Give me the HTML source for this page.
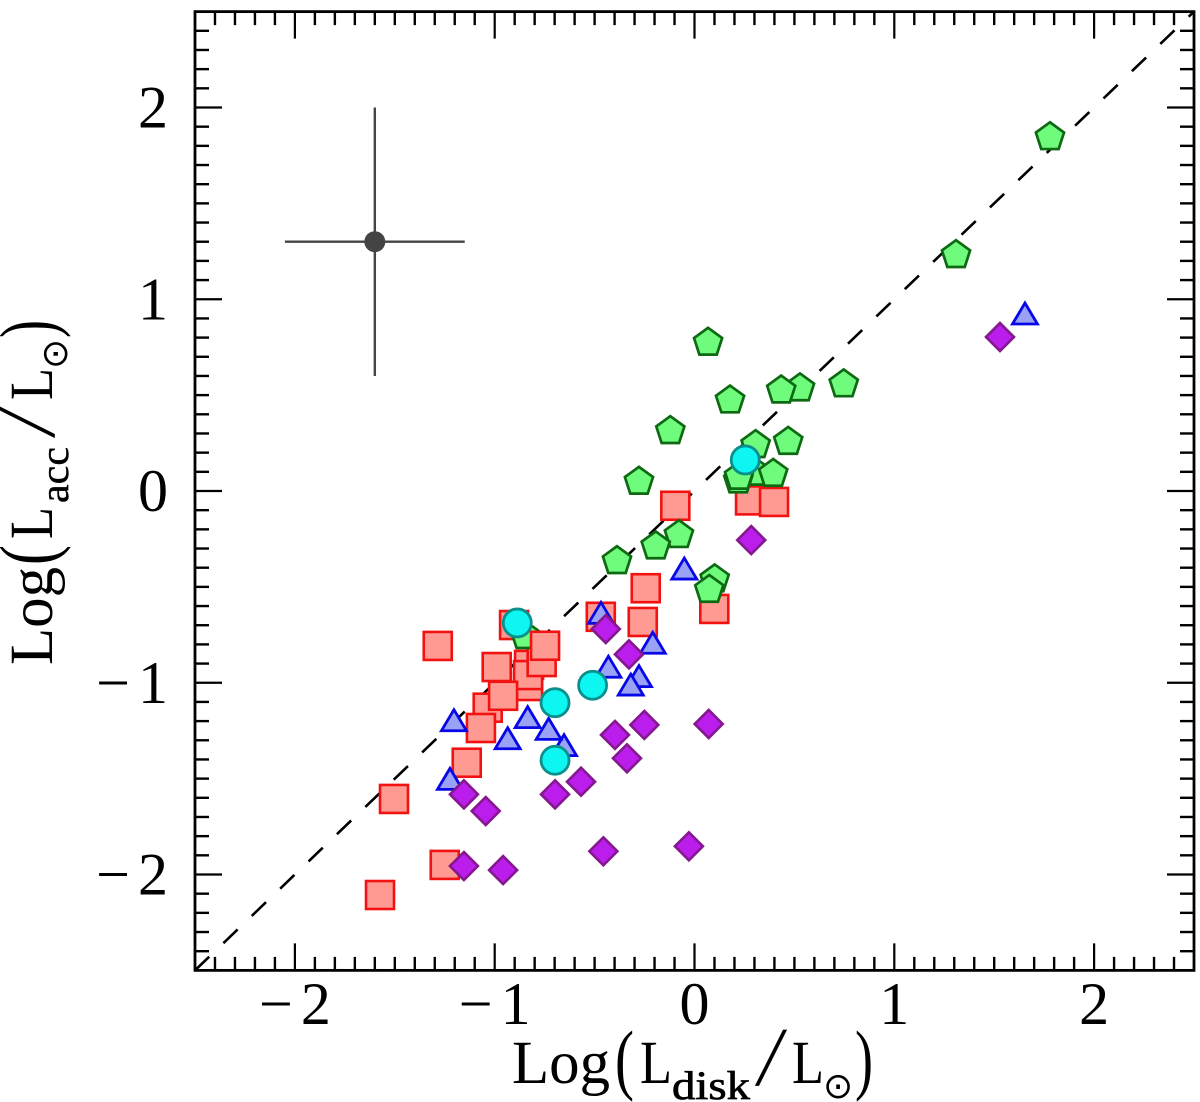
<!DOCTYPE html>
<html lang="en">
<head>
<meta charset="utf-8">
<title>Log Lacc versus Log Ldisk</title>
<style>
html,body{margin:0;padding:0;background:#fff;}
svg{display:block;}
text{font-family:"Liberation Serif","DejaVu Serif",serif;fill:#000;}
</style>
</head>
<body>
<svg id="chart" xmlns="http://www.w3.org/2000/svg" width="1200" height="1102" viewBox="0 0 1200 1102">
  <rect x="0" y="0" width="1200" height="1102" fill="#ffffff"/>
  <g id="ticks"></g>
  <line id="one-to-one" stroke="#000" stroke-width="2.6" stroke-dasharray="19.7 19.65"/>
  <g id="marks"></g>
  <g id="errorbar"></g>
  <rect id="frame" fill="none" stroke="#000" stroke-width="2.8"/>
  <g id="ticklabels"></g>

  <g transform="translate(512,1083)">
    <text x="0" y="0" font-size="61" textLength="98" lengthAdjust="spacingAndGlyphs">Log</text>
    <text x="103" y="2" font-size="78" font-weight="normal" textLength="19" lengthAdjust="spacingAndGlyphs">(</text>
    <text x="128" y="0" font-size="61" textLength="32" lengthAdjust="spacingAndGlyphs">L</text>
    <text x="160" y="16" font-size="40" stroke="#000" stroke-width="0.7" textLength="78" lengthAdjust="spacingAndGlyphs">disk</text>
    <text transform="translate(243,2) skewX(-9)" x="0" y="0" font-size="84">/</text>
    <text x="280" y="0" font-size="61" textLength="32" lengthAdjust="spacingAndGlyphs">L</text>
    <text x="311" y="15" font-size="36" style="font-family:'DejaVu Sans',sans-serif">⊙</text>
    <text x="343" y="2" font-size="78" textLength="18" lengthAdjust="spacingAndGlyphs">)</text>
  </g>

  <g transform="translate(52,665) rotate(-90)">
    <text x="0" y="0" font-size="61" textLength="98" lengthAdjust="spacingAndGlyphs">Log</text>
    <text x="100" y="2" font-size="78" textLength="20" lengthAdjust="spacingAndGlyphs">(</text>
    <text x="126" y="0" font-size="61" textLength="32" lengthAdjust="spacingAndGlyphs">L</text>
    <text x="162" y="16" font-size="40" stroke="#000" stroke-width="0.4" textLength="56" lengthAdjust="spacingAndGlyphs">acc</text>
    <text transform="translate(227,2) skewX(-9)" x="0" y="0" font-size="84">/</text>
    <text x="265" y="0" font-size="61" textLength="32" lengthAdjust="spacingAndGlyphs">L</text>
    <text x="296" y="15" font-size="36" style="font-family:'DejaVu Sans',sans-serif">⊙</text>
    <text x="327" y="2" font-size="78" textLength="18" lengthAdjust="spacingAndGlyphs">)</text>
  </g>
</svg>
<script>
const xTickLabels = [-2, -1, 0, 1, 2];
const yTickLabels = [-2, -1, 0, 1, 2];
const axisMin = -2.5;
const axisMax = 2.5;
const minorStep = 0.1;

const squaresBack = [[-1.285,-0.808],[-0.903,-0.699],[-0.990,-0.918],[-0.833,-1.017],[-0.828,-0.907],[-0.833,-0.960],[-0.765,-0.892],[-1.035,-1.130],[-0.958,-1.068],[-1.069,-1.236],[-1.140,-1.417],[-1.504,-1.606],[-1.250,-1.950],[-1.574,-2.107],[-0.469,-0.656],[-0.259,-0.683],[-0.244,-0.507],[0.099,-0.615],[-0.096,-0.077],[0.278,-0.049],[0.398,-0.057]];
const pentagons = [[0.068,0.779],[0.178,0.478],[0.528,0.541],[0.434,0.530],[0.747,0.562],[-0.121,0.318],[0.469,0.262],[0.306,0.245],[-0.278,0.054],[0.303,0.101],[0.394,0.095],[0.219,0.061],[0.223,0.080],[-0.078,-0.224],[-0.194,-0.283],[-0.388,-0.360],[0.101,-0.455],[0.074,-0.510],[-0.847,-0.751],[1.779,1.851],[1.309,1.236]];
const squaresFront = [[-0.748,-0.807]];
const triangles = [[-1.204,-1.198],[-0.835,-1.182],[-0.935,-1.292],[-0.653,-1.328],[-0.730,-1.243],[-1.224,-1.504],[-0.468,-0.638],[-0.209,-0.794],[-0.431,-0.919],[-0.278,-0.968],[-0.319,-1.012],[-0.051,-0.407],[1.654,0.923]];
const diamonds = [[-0.444,-0.720],[-0.328,-0.852],[-0.251,-1.220],[-0.398,-1.272],[-0.338,-1.394],[-0.568,-1.516],[-0.698,-1.582],[-1.154,-1.582],[-1.045,-1.669],[-1.154,-1.956],[-0.958,-1.977],[-0.456,-1.879],[-0.028,-1.853],[0.071,-1.215],[0.284,-0.256],[1.529,0.803]];
const circles = [[-0.887,-0.688],[-0.698,-1.104],[-0.510,-1.013],[-0.698,-1.404],[0.254,0.162]];
const errorCenter = [-1.6, 1.3];
const errorX = 0.45;
const errorY = 0.7;

const NS = 'http://www.w3.org/2000/svg';
function X(v){ return 694.5 + 199.8 * v; }
function Y(v){ return 491 - 191.75 * v; }
function make(tag, parent, attrs){
  const el = document.createElementNS(NS, tag);
  for (const k in attrs) el.setAttribute(k, attrs[k]);
  parent.appendChild(el);
  return el;
}

const frame = document.getElementById('frame');
frame.setAttribute('x', X(axisMin));
frame.setAttribute('y', Y(axisMax));
frame.setAttribute('width', X(axisMax) - X(axisMin));
frame.setAttribute('height', Y(axisMin) - Y(axisMax));

const oneToOne = document.getElementById('one-to-one');
oneToOne.setAttribute('x1', X(axisMin));
oneToOne.setAttribute('y1', Y(axisMin));
oneToOne.setAttribute('x2', X(axisMax));
oneToOne.setAttribute('y2', Y(axisMax));

const ticks = document.getElementById('ticks');
const nSteps = Math.round((axisMax - axisMin) / minorStep);
for (let i = 1; i < nSteps; i++) {
  const v = axisMin + i * minorStep;
  const isMajor = Math.abs(v - Math.round(v)) < 1e-6;
  const lenX = isMajor ? 27 : 13.5;
  const lenY = isMajor ? 27 : 14;
  const px = X(v);
  const py = Y(v);
  const b = Y(axisMin), t = Y(axisMax), l = X(axisMin), r = X(axisMax);
  const segs = [[px,b,px,b-lenX],[px,t,px,t+lenX],[l,py,l+lenY,py],[r,py,r-lenY,py]];
  for (const s of segs) {
    const ln = make('line', ticks, {x1:s[0], y1:s[1], x2:s[2], y2:s[3], stroke:'#000', 'stroke-width': isMajor ? 2.2 : 2.4});
    
    
  }
}

const labels = document.getElementById('ticklabels');
function writeLabel(el, v){
  if (v < 0) {
    const m = make('tspan', el, {});
    m.textContent = '\u2212';
    const d = make('tspan', el, {dx:8});
    d.textContent = String(Math.abs(v));
  } else {
    el.textContent = String(v);
  }
}
for (const v of xTickLabels) {
  const tx = make('text', labels, {x:X(v), y:1024, 'font-size':60, 'text-anchor':'middle'});
  writeLabel(tx, v);
  
  
}
for (const v of yTickLabels) {
  const ty = make('text', labels, {x:168, y:Y(v) + 20, 'font-size':60, 'text-anchor':'end'});
  writeLabel(ty, v);
  
  
}

const marks = document.getElementById('marks');
function drawSquare(p){
  const s = make('rect', marks, {x:X(p[0])-14, y:Y(p[1])-14, width:28, height:28, fill:'#ff9a92', stroke:'#f21212', 'stroke-width':2.6});
  
  
}
function polyPoints(cx, cy, pts){
  return pts.map(q => (cx + q[0]).toFixed(2) + ',' + (cy + q[1]).toFixed(2)).join(' ');
}
const pentShape = [0,1,2,3,4].map(i => [14.8 * Math.sin(i * 2 * Math.PI / 5), 1 - 14.8 * Math.cos(i * 2 * Math.PI / 5)]);
function drawPentagon(p){
  const s = make('polygon', marks, {points:polyPoints(X(p[0]), Y(p[1]), pentShape), fill:'#6ffb7c', stroke:'#0e6a12', 'stroke-width':2.7, 'stroke-linejoin':'miter'});
  
  
}
function drawTriangle(p){
  const s = make('polygon', marks, {points:polyPoints(X(p[0]), Y(p[1]), [[0,-11],[12.5,10],[-12.5,10]]), fill:'#9aa2f6', stroke:'#0808e6', 'stroke-width':2.8});
  
  
}
function drawDiamond(p){
  const s = make('polygon', marks, {points:polyPoints(X(p[0]), Y(p[1]), [[0,-14],[14,0],[0,14],[-14,0]]), fill:'#bb1eec', stroke:'#85178f', 'stroke-width':2.6});
  
  
}
function drawCircle(p){
  const s = make('circle', marks, {cx:X(p[0]), cy:Y(p[1]), r:14, fill:'#0ef6f2', stroke:'#0b8f8c', 'stroke-width':2.8});
  
  
}
squaresBack.forEach(drawSquare);
pentagons.forEach(drawPentagon);
squaresFront.forEach(drawSquare);
triangles.forEach(drawTriangle);
diamonds.forEach(drawDiamond);
circles.forEach(drawCircle);

const eb = document.getElementById('errorbar');
const ebH = make('line', eb, {x1:X(errorCenter[0]-errorX), y1:Y(errorCenter[1]), x2:X(errorCenter[0]+errorX), y2:Y(errorCenter[1]), stroke:'#444', 'stroke-width':2.4});


const ebV = make('line', eb, {x1:X(errorCenter[0]), y1:Y(errorCenter[1]+errorY), x2:X(errorCenter[0]), y2:Y(errorCenter[1]-errorY), stroke:'#444', 'stroke-width':2.4});


const ebC = make('circle', eb, {cx:X(errorCenter[0]), cy:Y(errorCenter[1]), r:10.5, fill:'#444'});


</script>
</body>
</html>
